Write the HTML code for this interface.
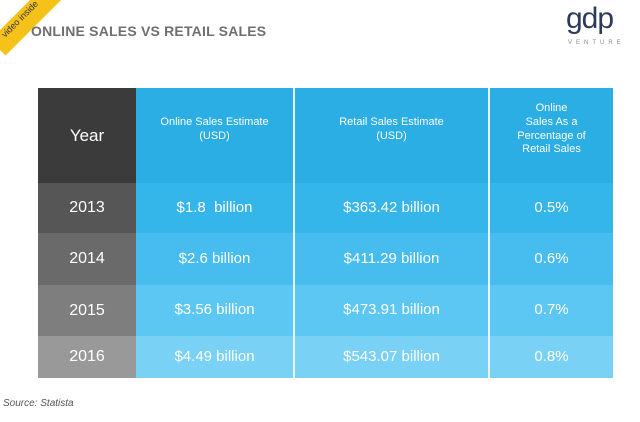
<!DOCTYPE html><html><head><style>
body{margin:0;width:640px;height:422px;background:#fff;position:relative;overflow:hidden;font-family:"Liberation Sans",sans-serif}
.t{position:absolute;left:31px;top:23px;font-size:14px;font-weight:bold;color:#6f6f6f;letter-spacing:0.2px}
.c{position:absolute;display:flex;align-items:center;justify-content:center;text-align:center;color:#fff;box-sizing:border-box}
.src{position:absolute;left:3px;top:398px;font-size:10px;font-style:italic;color:#555}
</style></head><body>
<div style="position:absolute;left:-30px;top:0;width:120px;height:22px;background:#f5c21a;transform:rotate(-45deg);transform-origin:0 0;top:40px;left:-10px"></div>
<div style="position:absolute;left:-4px;top:14px;font-size:9px;color:#333;transform:rotate(-45deg)">video inside</div>
<div class="t">ONLINE SALES VS RETAIL SALES</div>
<div style="position:absolute;left:566px;top:2px;font-size:30px;color:#2d3a5c;letter-spacing:-1px">gdp</div>
<div style="position:absolute;left:568px;top:40px;font-size:6px;color:#888;letter-spacing:4px">VENTURE</div>
<div class="c" style="left:38px;top:88px;width:98px;height:95px;background:#3b3b3b;font-size:17px">Year</div>
<div class="c" style="left:38px;top:183px;width:98px;height:50px;background:#565656;font-size:16px">2013</div>
<div class="c" style="left:38px;top:233px;width:98px;height:52px;background:#6a6a6a;font-size:16px">2014</div>
<div class="c" style="left:38px;top:285px;width:98px;height:51px;background:#7e7e7e;font-size:16px">2015</div>
<div class="c" style="left:38px;top:336px;width:98px;height:42px;background:#999;font-size:16px">2016</div>
<div id="g"></div>
<script>
const cols=[[136,157],[295,193],[490,123]];
const rows=[[88,95,'#2aaee4'],[183,50,'#35b6ea'],[233,52,'#46bdee'],[285,51,'#5cc7f2'],[336,42,'#79d1f5']];
const txt=[["Online Sales Estimate<br>(USD)","Retail Sales Estimate<br>(USD)","Online<br>Sales As a<br>Percentage of<br>Retail Sales"],
["$1.8&nbsp; billion","$363.42 billion","0.5%"],["$2.6 billion","$411.29 billion","0.6%"],["$3.56 billion","$473.91 billion","0.7%"],["$4.49 billion","$543.07 billion","0.8%"]];
let h='';rows.forEach((r,i)=>cols.forEach((c,j)=>{h+=`<div class="c" style="left:${c[0]}px;top:${r[0]}px;width:${c[1]}px;height:${r[1]}px;background:${r[2]};font-size:${i?15:11}px;line-height:1.25;${i?'':'padding-bottom:12px'}">${txt[i][j]}</div>`}));
h+='<div style="position:absolute;left:293px;top:88px;width:2px;height:290px;background:#e8f6fc"></div><div style="position:absolute;left:488px;top:88px;width:2px;height:290px;background:#e8f6fc"></div>';
document.getElementById('g').innerHTML=h;
</script>
<div class="src">Source: Statista</div>
</body></html>
